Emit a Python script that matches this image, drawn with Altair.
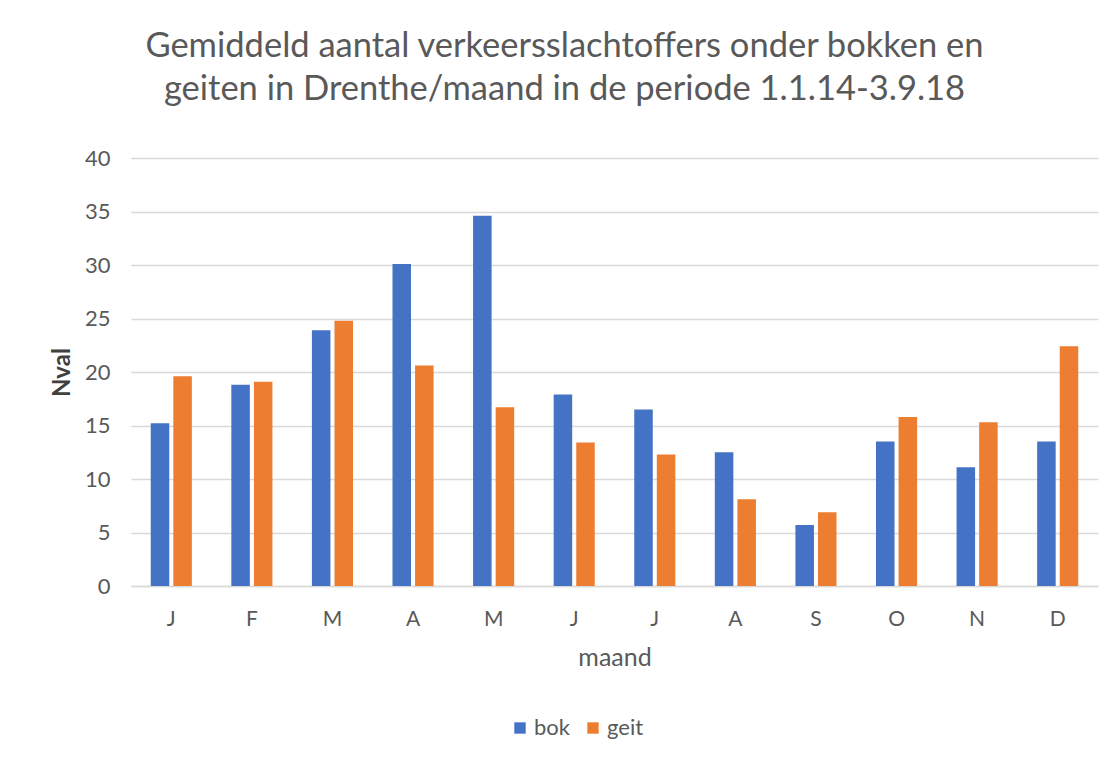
import altair as alt
import pandas as pd

months = ["J", "F", "M", "A", "M", "J", "J", "A", "S", "O", "N", "D"]
bok = [15.2, 18.8, 23.9, 30.1, 34.6, 17.9, 16.5, 12.5, 5.7, 13.5, 11.1, 13.5]
geit = [19.6, 19.1, 24.8, 20.6, 16.7, 13.4, 12.3, 8.1, 6.9, 15.8, 15.3, 22.4]
series = ["bok", "geit"]
colors = ["#4472C4", "#ED7D31"]

rows = []
for i in range(len(months)):
    rows.append({"idx": i, "serie": "bok", "value": bok[i]})
    rows.append({"idx": i, "serie": "geit", "value": geit[i]})
df = pd.DataFrame(rows)

label_expr = "[" + ",".join("'" + m + "'" for m in months) + "][datum.value]"

FONT = "Lato"
GREY = "#595959"

chart = alt.Chart(df).mark_bar().encode(
    x=alt.X("idx:O", scale=alt.Scale(paddingInner=0.49, paddingOuter=0.245),
            axis=alt.Axis(title="maand", labelExpr=label_expr, labelAngle=0,
                          ticks=False, domain=True, domainColor="#d9d9d9", domainWidth=1.5,
                          labelPadding=22, labelFontSize=21, labelColor=GREY, labelFont=FONT,
                          titleFontSize=25, titleColor=GREY, titleFont=FONT,
                          titleFontWeight="normal", titleY=79, titleBaseline="alphabetic")),
    xOffset=alt.XOffset("serie:N", sort=series, scale=alt.Scale(paddingInner=0.18)),
    y=alt.Y("value:Q", scale=alt.Scale(domain=[0, 40]),
            axis=alt.Axis(title="Nval", values=[0, 5, 10, 15, 20, 25, 30, 35, 40],
                          ticks=False, domain=False, gridColor="#d9d9d9", gridWidth=1.5,
                          labelPadding=21, labelFontSize=22, labelColor=GREY, labelFont=FONT,
                          titleFontSize=24, titleColor="#404040", titleFont=FONT,
                          titleFontWeight="bold", titleX=-69, titleY=214,
                          titleAngle=-90, titleAlign="center", titleBaseline="middle")),
    color=alt.Color("serie:N", scale=alt.Scale(domain=series, range=colors),
                    legend=alt.Legend(title=None, orient="none", direction="horizontal",
                                      legendX=378, legendY=559, symbolType="square",
                                      symbolSize=130, symbolStrokeWidth=0,
                                      labelFontSize=22, labelColor=GREY, labelFont=FONT,
                                      columnPadding=12, labelOffset=3)),
).properties(
    width=967,
    height=428,
    autosize=alt.AutoSizeParams(type="none"),
    padding={"left": 123, "top": 150, "right": 6, "bottom": 164},
    title=alt.Title(
        ["Gemiddeld aantal verkeersslachtoffers onder bokken en",
         "geiten in Drenthe/maand in de periode 1.1.14-3.9.18"],
        fontSize=34.5, font=FONT, color=GREY, fontWeight="normal",
        anchor="middle", lineHeight=43, dx=-50, offset=40,
    ),
).configure_view(stroke=None)

chart.save("out.html", embed_options={"renderer": "svg", "actions": False})
